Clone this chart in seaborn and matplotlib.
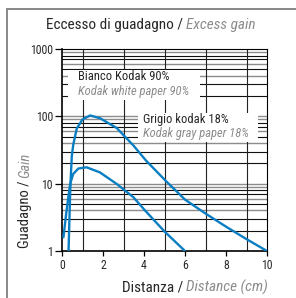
import matplotlib
matplotlib.use("Agg")
import matplotlib.pyplot as plt
import pandas as pd
import seaborn as sns
from matplotlib import font_manager
from matplotlib.patches import Rectangle
from matplotlib.ticker import FixedLocator, MultipleLocator, NullFormatter

# values
white_dist = [0.32, 0.36, 0.40, 0.44, 0.48, 0.55, 0.72, 1.0, 1.37, 1.85, 2.67, 3.48, 4.1, 5.0, 5.2, 6.0, 7.0, 8.0, 9.0, 10.0]
white_gain = [1.0, 2.8, 7.5, 15, 26, 38, 66, 90, 103, 94, 67, 37, 22, 11.5, 10, 5.8, 3.6, 2.3, 1.5, 1.0]
gray_dist = [0.07, 0.2, 0.3, 0.4, 0.55, 0.8, 1.2, 1.85, 2.67, 3.48, 4.05, 5.0, 6.0]
gray_gain = [1.6, 3.5, 6.0, 10, 14, 16.8, 17.5, 14.7, 9.9, 6.3, 4.0, 1.95, 1.0]
x_ticks = [0, 2, 4, 6, 8, 10]
y_ticks = [1, 10, 100, 1000]
y_labels = ["1", "10", "100", "1000"]

BLUE = "#0a7ec2"
GREY = "#8c8c8c"
W, H = 296, 298

sns.set_style("ticks")
have = {f.name for f in font_manager.fontManager.ttflist}
fams = [f for f in ["Liberation Sans Narrow", "Roboto Condensed", "Liberation Sans"] if f in have]
plt.rcParams["font.family"] = fams + ["DejaVu Sans"]

df = pd.concat([
    pd.DataFrame({"dist": white_dist, "gain": white_gain, "paper": "white"}),
    pd.DataFrame({"dist": gray_dist, "gain": gray_gain, "paper": "gray"}),
])

fig = plt.figure(figsize=(W / 100, H / 100), dpi=100)
ax = fig.add_axes([62 / W, 1 - 251 / H, 205 / W, 202 / H])

sns.lineplot(data=df, x="dist", y="gain", hue="paper", palette=[BLUE, BLUE],
             estimator=None, sort=False, legend=False, lw=1.7, ax=ax, zorder=4)

ax.set_yscale("log")
ax.set_xlim(0, 10)
ax.set_ylim(1, 1000)
ax.set_xlabel("")
ax.set_ylabel("")

# grid: every cm, every log step (some lines grey as in the print)
ax.xaxis.set_minor_locator(MultipleLocator(1))
ax.grid(which="minor", axis="x", color="#222222", lw=0.8, zorder=0.5)
for dec in [1, 10, 100]:
    for m in range(1, 10):
        v = dec * m
        if v == 1:
            continue
        col = GREY if m in (1, 4, 6, 9) else "#111111"
        ax.axhline(v, color=col, lw=1.0 if col == GREY else 0.8, zorder=0.5)

ax.set_xticks(x_ticks)
ax.set_xticklabels([str(t) for t in x_ticks])
ax.yaxis.set_major_locator(FixedLocator(y_ticks))
ax.set_yticklabels(y_labels)
ax.yaxis.set_minor_formatter(NullFormatter())
ax.tick_params(which="minor", length=0)
ax.tick_params(axis="y", which="major", length=5, width=0.9, labelsize=8.5, pad=1.5, color="black")
ax.tick_params(axis="x", which="major", length=3.5, width=0.9, labelsize=8.5, pad=2, color="black")
for s in ax.spines.values():
    s.set_color("black")
    s.set_linewidth(0.8)
ax.spines["left"].set_linewidth(1.2)
ax.spines["bottom"].set_linewidth(1.2)


def ax_xy(px, py):
    return (px - 62) / 205, (251 - py) / 202


# label boxes
for (x0, y0, x1, y1) in [(68, 70, 200, 100), (138, 113, 258, 142)]:
    bx, by = ax_xy(x0, y1)
    ax.add_patch(Rectangle((bx, by), (x1 - x0) / 205, (y1 - y0) / 202,
                           transform=ax.transAxes, facecolor="white", edgecolor="none", zorder=2))
labels = [(78, 77, "Bianco Kodak 90%", "Kodak white paper 90%"),
          (143, 119, "Grigio kodak 18%", "Kodak gray paper 18%")]
for px, py, it, en in labels:
    tx, ty = ax_xy(px, py)
    ax.text(tx, ty, it, transform=ax.transAxes, fontsize=9, va="center", ha="left", zorder=3)
    tx, ty = ax_xy(px, py + 14)
    ax.text(tx, ty, en, transform=ax.transAxes, fontsize=9, va="center", ha="left",
            style="italic", color=GREY, zorder=3)

# frame of the figure (only left and top edges show)
fig.add_artist(Rectangle((7 / W, -0.1), 1.2, 1 - 9 / H + 0.1, transform=fig.transFigure,
                         facecolor="none", edgecolor="#888888", lw=1.4))

renderer = fig.canvas.get_renderer()


def row(parts, px, py, align, vertical=False, size=10):
    arts = []
    for txt, kw in parts:
        t = fig.text(0, 0, txt, fontsize=size, rotation=90 if vertical else 0,
                     ha="left" if not vertical else "center",
                     va="center" if not vertical else "bottom", **kw)
        arts.append(t)
    gap = 3
    sizes = []
    for t in arts:
        bb = t.get_window_extent(renderer)
        sizes.append(bb.height if vertical else bb.width)
    total = sum(sizes) + gap * (len(arts) - 1)
    if vertical:
        cur = py  # bottom pixel (from top)
        for t, s in zip(arts, sizes):
            t.set_position((px / W, 1 - cur / H))
            cur -= s + gap
    else:
        cur = px - total / 2 if align == "center" else px - total
        for t, s in zip(arts, sizes):
            t.set_position((cur / W, 1 - py / H))
            cur += s + gap


row([("Eccesso di guadagno /", {}), ("Excess gain", {"style": "italic", "color": GREY})],
    151, 25, "center", size=11)
row([("Distanza /", {}), ("Distance (cm)", {"style": "italic", "color": GREY})],
    268, 287, "right", size=11)
row([("Guadagno /", {}), ("Gain", {"style": "italic", "color": GREY})],
    25, 248, "bottom", vertical=True, size=10.5)

fig.savefig("out.png", dpi=100)
